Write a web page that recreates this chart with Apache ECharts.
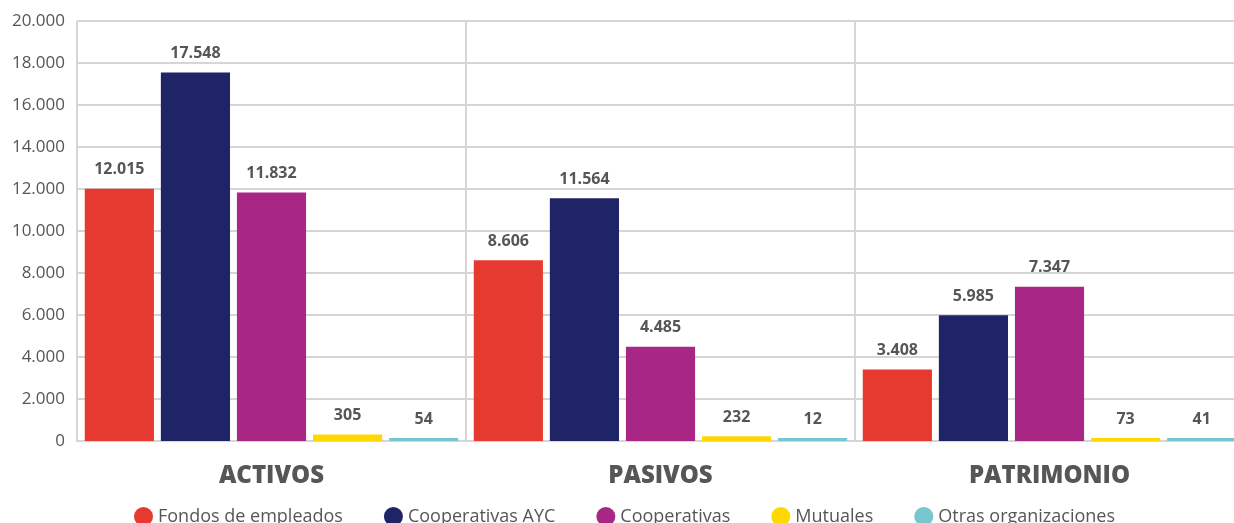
<!DOCTYPE html>
<html>
<head>
<meta charset="utf-8">
<script src="https://cdn.jsdelivr.net/npm/echarts@6/dist/echarts.min.js"></script>
<style>
  html, body { margin: 0; padding: 0; background: #fff; }
  #main { width: 1234px; height: 523px; }
</style>
</head>
<body>
<div id="main"></div>
<script>
// categorías y series
const categories = ["ACTIVOS", "PASIVOS", "PATRIMONIO"];
const seriesNames = ["Fondos de empleados", "Cooperativas AYC", "Cooperativas", "Mutuales", "Otras organizaciones"];
const fondos = [12015, 8606, 3408];
const coopAyc = [17548, 11564, 5985];
const cooperativas = [11832, 4485, 7347];
const mutuales = [305, 232, 73];
const otras = [54, 12, 41];
const colors = ["#e63a30", "#1f2466", "#a92784", "#ffd800", "#77c6d0"];

// formato con punto de miles
function fmt(v) {
  return String(v).replace(/\B(?=(\d{3})+(?!\d))/g, ".");
}

const font = "'Open Sans', 'Noto Sans', sans-serif";
const grey = "#565656";
const lineCol = "#d6d6d6";

let myChart = echarts.init(document.getElementById("main"));
let data = [fondos, coopAyc, cooperativas, mutuales, otras];

let option = {
  animation: false,
  textStyle: { fontFamily: font },
  legend: {
    data: seriesNames,
    top: 502,
    left: 129,
    icon: "circle",
    itemWidth: 19,
    itemHeight: 19,
    itemGap: 41,
    textStyle: { fontSize: 18, fontWeight: 500, color: grey, fontFamily: font }
  },
  grid: { left: 77, width: 1167, top: 21, bottom: 82, containLabel: false, outerBoundsMode: "none" },
  xAxis: {
    type: "category",
    data: categories,
    axisTick: { show: false },
    axisLine: { lineStyle: { color: lineCol, width: 2 } },
    splitLine: { show: true, interval: 0, lineStyle: { color: lineCol, width: 2 } },
    axisLabel: { fontSize: 24, fontWeight: 800, color: grey, margin: 23, fontFamily: font }
  },
  yAxis: {
    type: "value",
    min: 0,
    max: 20000,
    interval: 2000,
    axisLine: { show: false },
    axisTick: { show: false },
    splitLine: { lineStyle: { color: lineCol, width: 2 } },
    axisLabel: { fontSize: 17, color: grey, margin: 12, formatter: fmt, fontFamily: font }
  },
  series: seriesNames.map((name, i) => ({
    name: name,
    type: "bar",
    data: data[i],
    barGap: "10%",
    barCategoryGap: "4%",
    barMinHeight: 3,
    itemStyle: { color: colors[i] },
    label: {
      show: true,
      position: "top",
      distance: 11,
      fontSize: 16,
      fontWeight: "bold",
      color: grey,
      fontFamily: font,
      formatter: p => fmt(p.value)
    }
  }))
};
myChart.setOption(option);
</script>
</body>
</html>
